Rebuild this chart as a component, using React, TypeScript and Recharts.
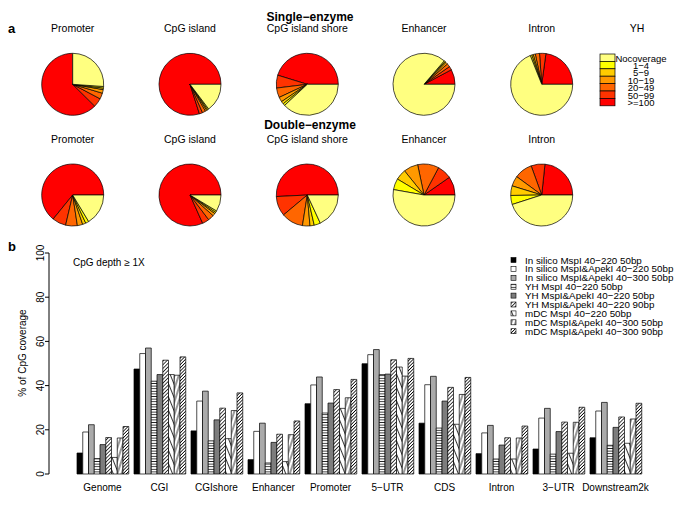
import React from 'react';
import { BarChart, Bar, XAxis, YAxis, PieChart, Pie, Cell } from 'recharts';

// ---- panel a: CpG depth distribution per region ----
const regions = ['Promoter', 'CpG island', 'CpG island shore', 'Enhancer', 'Intron'];
// slice order = counter-clockwise from the start angle
const depthBins = ['>=100', '50−99', '20−49', '10−19', '5−9', '1−4', 'Nocoverage'];
const legendBins = ['Nocoverage', '1−4', '5−9', '10−19', '20−49', '50−99', '>=100'];

const singlePromoter = [62.5, 4.7, 3.1, 1.9, 0.8, 0.8, 26.1];
const singleCgi = [80, 1.7, 1.7, 0.8, 0.6, 0.6, 14.7];
const singleShore = [45.3, 6.7, 5, 2.5, 1.4, 1.1, 38.1];
const singleEnhancer = [7.8, 1.9, 1.7, 1.1, 0.6, 0.6, 86.4];
const singleIntron = [22.8, 3.3, 2.2, 1.1, 0.8, 0.8, 68.9];

const doublePromoter = [64.2, 7.2, 6.1, 2.8, 1.7, 1.7, 16.4];
const doubleCgi = [81.7, 3.6, 3.1, 1.4, 0.8, 0.8, 8.6];
const doubleShore = [50.8, 10.3, 11.4, 3.9, 2.2, 3.3, 18.1];
const doubleEnhancer = [9.7, 7.5, 11.1, 7.5, 5.6, 5.8, 52.8];
const doubleIntron = [23.3, 7.2, 9.4, 5.3, 5, 4.7, 45];

// ---- panel b: % of CpG coverage ----
const categories = ['Genome', 'CGI', 'CGIshore', 'Enhancer', 'Promoter', '5−UTR', 'CDS', 'Intron', '3−UTR', 'Downstream2k'];
const seriesNames = [
  'In silico MspI 40−220 50bp',
  'In silico MspI&ApekI 40−220 50bp',
  'In silico MspI&ApekI 40−300 50bp',
  'YH MspI 40−220 50bp',
  'YH MspI&ApekI 40−220 50bp',
  'YH MspI&ApekI 40−220 90bp',
  'mDC MspI 40−220 50bp',
  'mDC MspI&ApekI 40−300 50bp',
  'mDC MspI&ApekI 40−300 90bp',
];
const inSilicoMsp = [9.5, 47.5, 19.5, 6.5, 31.8, 49.9, 23, 9.2, 11.3, 16.4];
const inSilicoMa220 = [19, 54.5, 33, 19.3, 40.3, 54, 40.4, 18.6, 25.3, 28.5];
const inSilicoMa300 = [22.3, 57, 37.5, 23, 43.9, 56.3, 44.2, 22, 29.7, 32.4];
const yhMsp = [7, 42, 15, 5, 27.6, 45, 20.8, 6.8, 9, 13];
const yhMa50 = [13.3, 45, 24.5, 14.3, 32.1, 45.2, 33, 13.1, 19.2, 21.1];
const yhMa90 = [16.5, 51.5, 29.8, 18, 38.2, 51.7, 39.2, 16.4, 23.5, 25.8];
const mdcMsp = [7.5, 45, 16, 5.6, 29.7, 48.4, 22.5, 6.8, 9.4, 13.9];
const mdcMa50 = [16.3, 44.7, 28.7, 17.8, 34.5, 44.3, 36, 16.3, 23.4, 24.9];
const mdcMa90 = [21.5, 53, 36.7, 24, 42.8, 52.3, 43.7, 21.7, 30.2, 32];
const yTicks = [0, 20, 40, 60, 80, 100];

const allSeries = [inSilicoMsp, inSilicoMa220, inSilicoMa300, yhMsp, yhMa50, yhMa90, mdcMsp, mdcMa50, mdcMa90];
const binColors = ['#FF0000', '#FF3300', '#FF6600', '#FF9900', '#FFCC00', '#FFFF00', '#FFFF80'];
const legendColors = [...binColors].reverse();
const fills = ['#000', '#fff', '#aaa', 'url(#p4)', 'url(#p5)', 'url(#p6)', 'url(#p7)', 'url(#p8)', 'url(#p9)'];

const font = '"Liberation Sans", Arial, Helvetica, sans-serif';
const pieX = [72.7, 190, 307.3, 424, 541.7];

const toSlices = (vals: number[]) => vals.map((v, i) => ({ name: depthBins[i], value: v }));
const singleRow = [singlePromoter, singleCgi, singleShore, singleEnhancer, singleIntron].map(toSlices);
const doubleRow = [doublePromoter, doubleCgi, doubleShore, doubleEnhancer, doubleIntron].map(toSlices);
const singleStart = [90, 0, 0, 0, 0];

const barData = categories.map((c, i) => {
  const row: any = { name: c };
  allSeries.forEach((s, k) => { row['s' + k] = s[i]; });
  return row;
});

// R style: tick labels parallel to the axis
const YTick = ({ x, y, payload }: any) => {
  const bx = x - 1;
  return (
    <text x={bx} y={y} transform={`rotate(-90 ${bx} ${y})`} textAnchor="middle" fontSize={10} fill="#000" fontFamily={font}>
      {payload.value}
    </text>
  );
};

const Patterns = () => (
  <svg width={0} height={0} style={{ position: 'absolute' }}>
    <defs>
      <pattern id="p4" width={4} height={2.6} patternUnits="userSpaceOnUse">
        <rect width={4} height={2.6} fill="#fff" />
        <line x1={0} y1={1.3} x2={4} y2={1.3} stroke="#000" strokeWidth={0.8} />
      </pattern>
      <pattern id="p5" width={1.9} height={4} patternUnits="userSpaceOnUse">
        <rect width={1.9} height={4} fill="#bbb" />
        <line x1={0.95} y1={0} x2={0.95} y2={4} stroke="#222" strokeWidth={0.8} />
      </pattern>
      <pattern id="p6" width={2.6} height={4} patternUnits="userSpaceOnUse" patternTransform="rotate(45)">
        <rect width={2.6} height={4} fill="#fff" />
        <line x1={1.3} y1={0} x2={1.3} y2={4} stroke="#000" strokeWidth={0.8} />
      </pattern>
      <pattern id="p7" width={5} height={6} patternUnits="userSpaceOnUse" patternTransform="rotate(-22)">
        <rect width={5} height={6} fill="#fff" />
        <line x1={2.5} y1={0} x2={2.5} y2={6} stroke="#000" strokeWidth={0.8} />
      </pattern>
      <pattern id="p8" width={4} height={6} patternUnits="userSpaceOnUse" patternTransform="rotate(18)">
        <rect width={4} height={6} fill="#fff" />
        <line x1={2} y1={0} x2={2} y2={6} stroke="#000" strokeWidth={0.8} />
      </pattern>
      <pattern id="p9" width={2.3} height={4} patternUnits="userSpaceOnUse" patternTransform="rotate(45)">
        <rect width={2.3} height={4} fill="#fff" />
        <line x1={1.15} y1={0} x2={1.15} y2={4} stroke="#000" strokeWidth={0.8} />
      </pattern>
    </defs>
  </svg>
);

export default function App() {
  return (
    <div style={{ position: 'relative', width: 685, height: 505, background: '#fff', fontFamily: font }}>
      <style>{'body{margin:0}'}</style>
      <Patterns />

      {/* panel b */}
      <div style={{ position: 'absolute', left: 0, top: 0 }}>
        <BarChart
          width={685}
          height={505}
          data={barData}
          margin={{ top: 253, right: 41, bottom: 17, left: 9 }}
          barGap={0}
          barSize={5.75}
        >
          <XAxis
            dataKey="name"
            height={14}
            axisLine={false}
            tickLine={false}
            padding={{ left: 25, right: 0 }}
            tick={{ fontSize: 10, fill: '#000', fontFamily: font }}
            tickMargin={4}
            interval={0}
          />
          <YAxis
            width={40}
            domain={[0, 100]}
            ticks={yTicks}
            axisLine={{ stroke: '#000' }}
            tickLine={{ stroke: '#000' }}
            tickSize={4}
            tickMargin={0}
            tick={<YTick />}
          />
          {allSeries.map((_, k) => (
            <Bar
              key={k}
              dataKey={'s' + k}
              name={seriesNames[k]}
              fill={fills[k]}
              stroke="#000"
              strokeWidth={0.7}
              isAnimationActive={false}
            />
          ))}
        </BarChart>
      </div>

      {/* panel a */}
      <div style={{ position: 'absolute', left: 0, top: 0 }}>
        <PieChart width={685} height={235} margin={{ top: 0, right: 0, bottom: 0, left: 0 }}>
          {singleRow.map((d, i) => (
            <Pie
              key={'s' + i}
              data={d}
              dataKey="value"
              cx={pieX[i]}
              cy={84.3}
              outerRadius={31}
              startAngle={singleStart[i]}
              endAngle={singleStart[i] + 360}
              stroke="#000"
              strokeWidth={0.7}
              isAnimationActive={false}
            >
              {d.map((_, j) => <Cell key={j} fill={binColors[j]} />)}
            </Pie>
          ))}
          {doubleRow.map((d, i) => (
            <Pie
              key={'d' + i}
              data={d}
              dataKey="value"
              cx={pieX[i]}
              cy={195}
              outerRadius={31}
              startAngle={0}
              endAngle={360}
              stroke="#000"
              strokeWidth={0.7}
              isAnimationActive={false}
            >
              {d.map((_, j) => <Cell key={j} fill={binColors[j]} />)}
            </Pie>
          ))}
        </PieChart>
      </div>

      {/* text overlay */}
      <svg width={685} height={505} style={{ position: 'absolute', left: 0, top: 0, pointerEvents: 'none' }} fontFamily={font}>
        <text x={8} y={28} dominantBaseline="central" fontSize={13} fontWeight="bold">a</text>
        <text x={8} y={246} dominantBaseline="central" fontSize={13} fontWeight="bold">b</text>
        <text x={310} y={17} textAnchor="middle" dominantBaseline="central" fontSize={12} fontWeight="bold">Single−enzyme</text>
        <text x={310} y={124.5} textAnchor="middle" dominantBaseline="central" fontSize={12} fontWeight="bold">Double−enzyme</text>
        {regions.map((r, i) => (
          <React.Fragment key={r}>
            <text x={pieX[i]} y={28} textAnchor="middle" dominantBaseline="central" fontSize={10.5}>{r}</text>
            <text x={pieX[i]} y={139} textAnchor="middle" dominantBaseline="central" fontSize={10.5}>{r}</text>
          </React.Fragment>
        ))}
        <text x={637} y={28} textAnchor="middle" dominantBaseline="central" fontSize={10.5}>YH</text>
        {legendBins.map((b, i) => (
          <React.Fragment key={b}>
            <rect x={600} y={54 + i * 7.4} width={15} height={7.4} fill={legendColors[i]} stroke="#000" strokeWidth={0.7} />
            <text x={641} y={58 + i * 7.4} textAnchor="middle" dominantBaseline="central" fontSize={9.5}>{b}</text>
          </React.Fragment>
        ))}

        <text x={73} y={262} dominantBaseline="central" fontSize={10}>CpG depth ≥ 1X</text>
        <text x={22} y={353} transform="rotate(-90 22 353)" textAnchor="middle" dominantBaseline="central" fontSize={10}>% of CpG coverage</text>
        {seriesNames.map((n, i) => (
          <React.Fragment key={n}>
            <rect x={511} y={257.5 + i * 8.9} width={5} height={5} fill={fills[i]} stroke="#000" strokeWidth={0.6} />
            <text x={525} y={260 + i * 8.9} dominantBaseline="central" fontSize={9.8}>{n}</text>
          </React.Fragment>
        ))}
      </svg>
    </div>
  );
}
